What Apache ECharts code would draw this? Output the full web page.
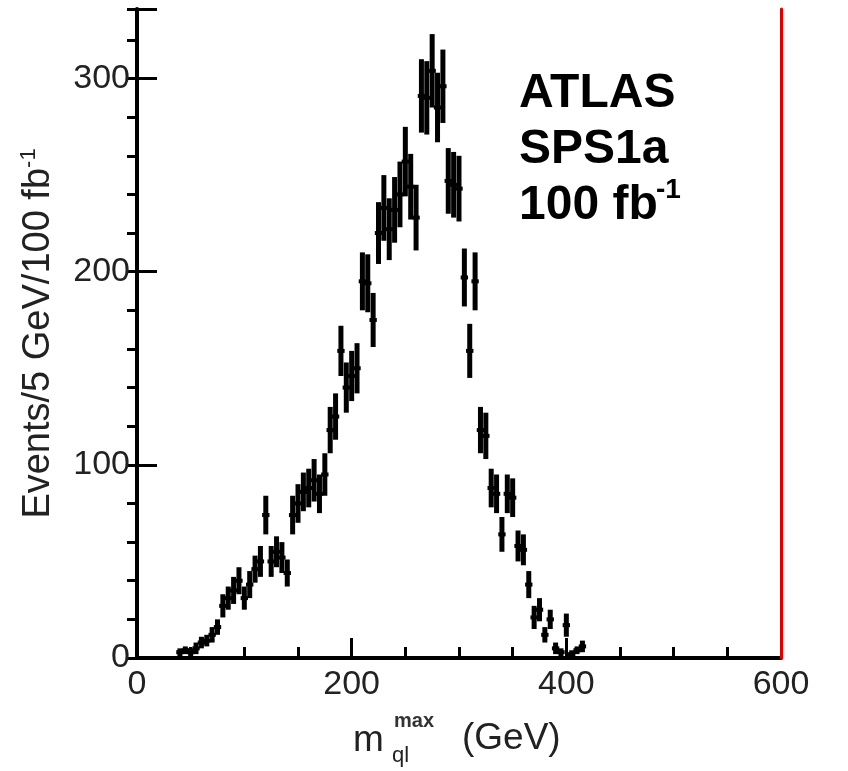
<!DOCTYPE html>
<html>
<head>
<meta charset="utf-8">
<script src="https://cdn.jsdelivr.net/npm/echarts@6/dist/echarts.min.js"></script>
<style>
  html, body { margin: 0; padding: 0; background: #fff; }
  #chart { width: 848px; height: 771px; }
</style>
</head>
<body>
<div id="chart"></div>
<script>
  // m_ql^max distribution, 5 GeV bins (bin centre, events, error)
  const binCenters = [40, 45, 50, 55, 60, 65, 70, 75, 80, 85, 90, 95, 100, 105, 110, 115, 120, 125, 130, 135,
    140, 145, 150, 155, 160, 165, 170, 175, 180, 185, 190, 195, 200, 205, 210, 215, 220, 225, 230, 235,
    240, 245, 250, 255, 260, 265, 270, 275, 280, 285, 290, 295, 300, 305, 310, 315, 320, 325, 330, 335,
    340, 345, 350, 355, 360, 365, 370, 375, 380, 385, 390, 395, 400, 405, 410, 415];
  const counts = [3, 4, 3, 5, 8, 9, 12, 16, 27, 31, 35, 40, 31, 38, 46, 50, 74, 50, 55, 52,
    44, 74, 80, 86, 88, 92, 85, 95, 118, 125, 159, 140, 146, 150, 195, 194, 175, 220, 233, 222,
    232, 240, 257, 244, 228, 291, 290, 304, 285, 296, 247, 245, 243, 197, 159, 195, 118, 115, 88, 85,
    64, 85, 83, 58, 56, 38, 21, 25, 12, 20, 5, 3, 17, 2, 4, 6];
  const errors = [2, 2, 2, 3, 3, 3, 4, 4, 6, 6, 7, 7, 6, 7, 7, 8, 10, 8, 8, 8,
    7, 10, 10, 10, 10, 11, 10, 11, 12, 12, 13, 13, 13, 13, 15, 15, 14, 16, 17, 16,
    17, 17, 18, 17, 17, 19, 19, 19, 18, 19, 17, 17, 17, 15, 14, 15, 12, 12, 10, 10,
    9, 10, 10, 8, 8, 7, 6, 6, 4, 5, 3, 2, 6, 2, 2, 3];
  const halfBin = 2.5;

  const xMin = 0, xMax = 600, xStep = 200;
  const yMin = 0, yMax = 336, yStep = 100, yMinorStep = 20;

  const points = binCenters.map((x, i) => [x, counts[i], errors[i]]);

  function renderPoint(params, api) {
    const x = api.value(0), y = api.value(1), e = api.value(2);
    const c = api.coord([x, y]);
    const top = api.coord([x, y + e]);
    const bot = api.coord([x, Math.max(0, y - e)]);
    const l = api.coord([x - halfBin, y]);
    const r = api.coord([x + halfBin, y]);
    return {
      type: 'group',
      children: [
        { type: 'line', shape: { x1: c[0], y1: top[1], x2: c[0], y2: bot[1] },
          style: { stroke: '#000', lineWidth: 5 } },
        { type: 'line', shape: { x1: l[0] - 1, y1: c[1], x2: r[0] + 1, y2: c[1] },
          style: { stroke: '#000', lineWidth: 4 } }
      ]
    };
  }

  const labelFont = 'Liberation Sans, Arial, sans-serif';
  const chart = echarts.init(document.getElementById('chart'));
  const option = {
    animation: false,
    backgroundColor: '#fff',
    grid: { left: 137, right: 67, top: 9, bottom: 113, containLabel: false },
    xAxis: {
      type: 'value',
      min: xMin, max: xMax, interval: xStep,
      axisLine: { show: true, onZero: false, lineStyle: { color: '#000', width: 4 } },
      axisTick: { show: true, inside: true, length: 20, lineStyle: { color: '#000', width: 3 } },
      minorTick: { show: true, splitNumber: 4, length: 11, lineStyle: { color: '#000', width: 3 } },
      splitLine: { show: false },
      axisLabel: { color: '#222', fontSize: 34, fontFamily: labelFont, margin: 10 }
    },
    yAxis: [
      {
        type: 'value',
        min: yMin, max: yMax, interval: yStep,
        axisLine: { show: true, onZero: false, lineStyle: { color: '#000', width: 4 } },
        axisTick: { show: true, inside: true, length: 20, lineStyle: { color: '#000', width: 3 } },
        splitLine: { show: false },
        axisLabel: {
          color: '#222', fontSize: 34, fontFamily: labelFont, margin: 7,
          formatter: v => (v % yStep === 0 ? String(v) : '')
        },
        name: '{a|Events/5 GeV/100 fb}{s|-1}',
        nameLocation: 'middle',
        nameRotate: 90,
        nameGap: 79,
        nameTextStyle: {
          color: '#222',
          rich: {
            a: { fontSize: 38, fontFamily: labelFont, color: '#222', verticalAlign: 'bottom', lineHeight: 40 },
            s: { fontSize: 22, fontFamily: labelFont, color: '#222', verticalAlign: 'top', lineHeight: 40 }
          }
        }
      },
      {
        type: 'value',
        min: yMin, max: yMax, interval: yMinorStep,
        axisLine: { show: false },
        axisTick: { show: true, inside: true, length: 10, lineStyle: { color: '#000', width: 3 } },
        axisLabel: { show: false },
        splitLine: { show: false }
      },
      {
        type: 'value',
        position: 'right',
        min: yMin, max: yMax,
        z: 10,
        axisLine: { show: true, lineStyle: { color: '#e00000', width: 3 } },
        axisTick: { show: false },
        axisLabel: { show: false },
        splitLine: { show: false }
      }
    ],
    graphic: [
      { type: 'text', left: 519, top: 70, style: { text: 'ATLAS', font: 'bold 48px Liberation Sans, Arial, sans-serif', fill: '#000' } },
      { type: 'text', left: 519, top: 126, style: { text: 'SPS1a', font: 'bold 48px Liberation Sans, Arial, sans-serif', fill: '#000' } },
      { type: 'text', left: 519, top: 182, style: { text: '100 fb', font: 'bold 48px Liberation Sans, Arial, sans-serif', fill: '#000' } },
      { type: 'text', left: 656, top: 176, style: { text: '-1', font: 'bold 28px Liberation Sans, Arial, sans-serif', fill: '#000' } },
      { type: 'text', left: 353, top: 722, style: { text: 'm', font: '37px Liberation Sans, Arial, sans-serif', fill: '#222' } },
      { type: 'text', left: 394, top: 711, style: { text: 'max', font: 'bold 20px Liberation Sans, Arial, sans-serif', fill: '#333' } },
      { type: 'text', left: 392, top: 745, style: { text: 'ql', font: '22px Liberation Sans, Arial, sans-serif', fill: '#222' } },
      { type: 'text', left: 462, top: 720, style: { text: '(GeV)', font: '37px Liberation Sans, Arial, sans-serif', fill: '#222' } }
    ],
    series: [{
      type: 'custom',
      renderItem: renderPoint,
      xAxisIndex: 0,
      yAxisIndex: 0,
      encode: { x: 0, y: 1 },
      data: points
    }]
  };
  chart.setOption(option);
</script>
</body>
</html>
